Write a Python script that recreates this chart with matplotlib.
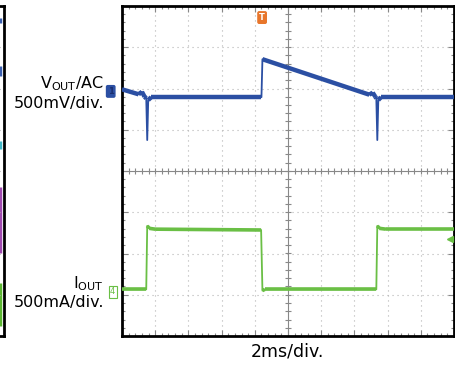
import matplotlib
matplotlib.use("Agg")
import matplotlib.pyplot as plt
import numpy as np

plt.rcParams['font.family'] = ['DejaVu Sans']
plt.rcParams['mathtext.fontset'] = 'dejavusans'

# scope traces, x in divisions (0..10), y in divisions (-4..4)
vout_t = [0.0, 0.50, 0.60, 0.68, 0.73, 0.76, 0.79, 0.88, 4.20, 4.23, 7.45, 7.55, 7.63, 7.66, 7.69, 7.72, 7.80, 10.0]
vout_v = [1.98, 1.86, 1.92, 1.80, 1.76, 0.75, 1.72, 1.79, 1.79, 2.71, 1.85, 1.90, 1.80, 1.76, 0.75, 1.72, 1.79, 1.79]

iout_t = [0.0, 0.73, 0.76, 0.82, 1.00, 4.19, 4.23, 4.30, 7.66, 7.69, 7.75, 7.95, 10.0]
iout_v = [-2.87, -2.87, -1.33, -1.39, -1.41, -1.43, -2.90, -2.87, -2.87, -1.33, -1.39, -1.41, -1.41]

# slivers of the neighbouring scope shot (fig y pixels from top)
left_bits = [(18, 23, '#3a5fb0'), (66, 76, '#3a5fb0'), (141, 149, '#40b8c8'),
             (187, 253, '#a04ab0'), (283, 326, '#5cb832')]

blue = '#2b4fa3'
green = '#6abf45'
orange = '#e8762b'

W, H = 456, 368
fig = plt.figure(figsize=(W / 100, H / 100), dpi=100)

# left sliver panel
axl = fig.add_axes([-0.02, (H - 336) / H, 0.02 + 4 / W, 330 / H])
axl.set_xlim(0, 1)
axl.set_ylim(336, 6)
for y0, y1, c in left_bits:
    axl.vlines(0.72, y0, y1, color=c, lw=2.5)
for g in np.linspace(6, 336, 9)[1:-1]:
    axl.axhline(g, color='#aaaaaa', lw=0.8, ls=(0, (1, 3)))
axl.set_xticks([])
axl.set_yticks([])
axl.spines['left'].set_visible(False)
for s in ['right', 'top', 'bottom']:
    axl.spines[s].set_linewidth(2)

# main scope panel
ax = fig.add_axes([122 / W, (H - 336) / H, 332 / W, 330 / H])
ax.set_xlim(0, 10)
ax.set_ylim(-4, 4)

for gx in range(1, 10):
    if gx != 5:
        ax.axvline(gx, color='#b4b4b4', lw=0.8, ls=(0, (1, 3.5)), zorder=1)
for gy in range(-3, 4):
    if gy != 0:
        ax.axhline(gy, color='#b4b4b4', lw=0.8, ls=(0, (1, 3.5)), zorder=1)
ax.axvline(5, color='#888888', lw=0.8, zorder=1)
ax.axhline(0, color='#888888', lw=0.8, zorder=1)
mx = np.arange(0.2, 10, 0.2)
my = np.arange(-3.8, 4, 0.2)
ax.plot(mx, np.zeros_like(mx), ls='none', marker='|', ms=4, color='#888888', mew=0.8, zorder=1)
ax.plot(np.full_like(my, 5.0), my, ls='none', marker='_', ms=4, color='#888888', mew=0.8, zorder=1)

ax.set_xticks(np.arange(0, 11, 1))
ax.set_yticks(np.arange(-4, 5, 1))
ax.set_xticks(mx, minor=True)
ax.set_yticks(my, minor=True)
ax.tick_params(which='both', direction='in', top=True, right=True, labelbottom=False,
               labelleft=False, color='#888888', width=0.8)
ax.tick_params(which='major', length=4)
ax.tick_params(which='minor', length=2.5)
for s in ax.spines.values():
    s.set_linewidth(2)


def trace(t, v, color, thick):
    # fast edges stay thin, slow parts get the noisy band width
    ax.plot(t, v, color=color, lw=1.3, zorder=3)
    for i in range(len(t) - 1):
        slope = abs((v[i + 1] - v[i]) / (t[i + 1] - t[i]))
        if slope < 3:
            ax.plot(t[i:i + 2], v[i:i + 2], color=color, lw=thick,
                    solid_capstyle='butt', zorder=3)


trace(vout_t, vout_v, blue, 3.2)
trace(iout_t, iout_v, green, 2.6)

# channel / trigger markers
ax.text(-0.34, 1.93, '1', color='#1a2f70', fontsize=6, fontweight='bold', ha='center', va='center',
        clip_on=False, bbox=dict(boxstyle='round,pad=0.15', fc=blue, ec=blue))
ax.text(-0.28, -2.93, '4', color=green, fontsize=6, ha='center', va='center',
        clip_on=False, bbox=dict(boxstyle='square,pad=0.15', fc='white', ec=green, lw=0.8))
ax.text(4.22, 3.72, 'T', color='white', fontsize=6, fontweight='bold', ha='center', va='center',
        clip_on=False, bbox=dict(boxstyle='round,pad=0.15', fc=orange, ec=orange))
ax.plot([9.88], [-1.64], marker='<', ms=5, color=green, clip_on=False, zorder=4)

# labels
fig.text(104 / W, 1 - 88 / H, r'V$_{\mathrm{OUT}}$/AC', ha='right', va='baseline', fontsize=11.5)
fig.text(104 / W, 1 - 108 / H, '500mV/div.', ha='right', va='baseline', fontsize=11.5)
fig.text(104 / W, 1 - 288 / H, r'I$_{\mathrm{OUT}}$', ha='right', va='baseline', fontsize=11.5)
fig.text(104 / W, 1 - 307 / H, '500mA/div.', ha='right', va='baseline', fontsize=11.5)
fig.text(287 / W, 1 - 357 / H, '2ms/div.', ha='center', va='baseline', fontsize=12.5)

fig.savefig('out.png', dpi=100)
